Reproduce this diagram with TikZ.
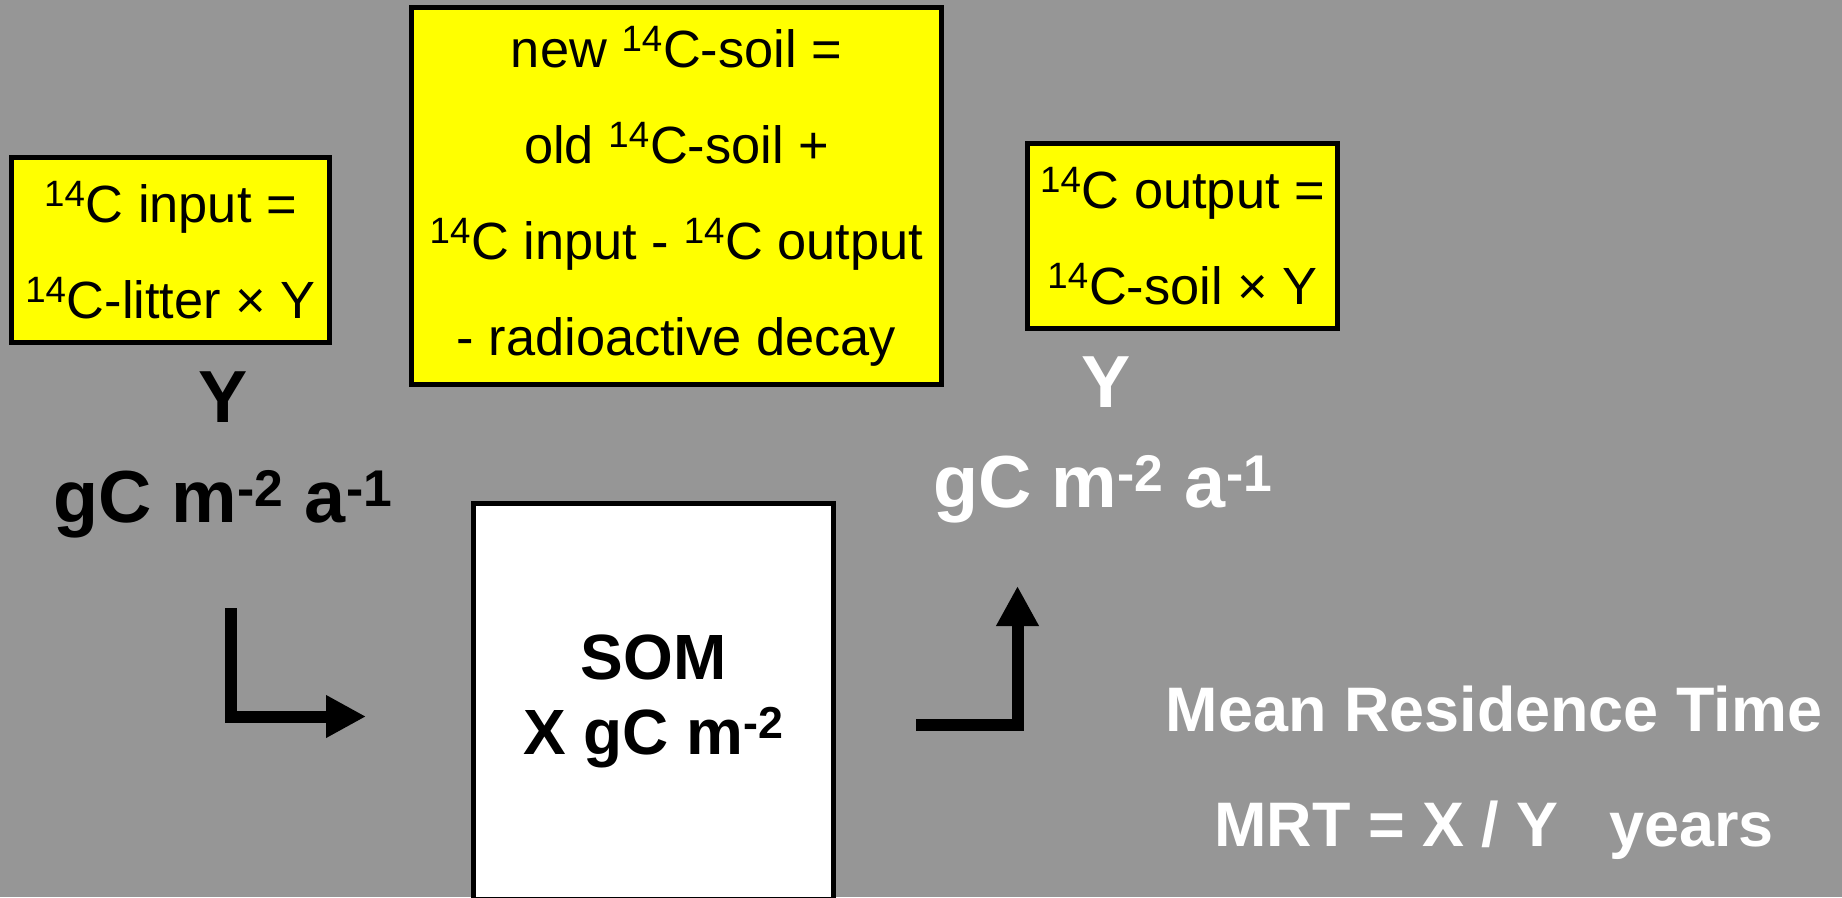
\documentclass[tikz,border=0pt]{standalone}
\usepackage{fontspec}
\setmainfont{Liberation Sans}
\usepackage{tikz}
\usetikzlibrary{arrows.meta}
\definecolor{bggray}{RGB}{150,150,150}
\definecolor{boxyellow}{RGB}{255,255,0}
\newcommand{\cxiv}{\textsuperscript{14}C}
\tikzset{
  eqbox/.style={rectangle, draw=black, fill=boxyellow, align=center,
    inner sep=0pt, line width=2.85pt, font=\fontsize{29.8}{54.6}\selectfont},
  ratelabel/.style={anchor=base, font=\fontsize{42}{50}\selectfont\bfseries},
  pool/.style={rectangle, draw=black, fill=white, align=center,
    inner sep=0pt, line width=2.85pt, font=\fontsize{36.4}{42.7}\selectfont\bfseries},
  mrtlabel/.style={anchor=base, text=white, font=\fontsize{35.8}{43}\selectfont\bfseries},
  flow/.style={-{Triangle[length=0.8cm, width=0.8cm]}, line width=0.24cm, line join=miter}
}

\begin{document}
\begin{tikzpicture}[x=0.02cm, y=-0.02cm]
  \useasboundingbox (0,0) rectangle (1842,897);
  \clip (0,0) rectangle (1842,897);
  \fill[bggray] (0,0) rectangle (1842,897);

  \node[eqbox, minimum width=6.36cm, minimum height=3.69cm] (input) at (170.5,250)
    {\cxiv{} input =\\\cxiv-litter × Y};
  \node[eqbox, minimum width=10.6cm, minimum height=7.54cm] (balance) at (676.5,196)
    {new \cxiv-soil =\\old \cxiv-soil +\\\cxiv{} input - \cxiv{} output\\- radioactive decay};
  \node[eqbox, minimum width=6.2cm, minimum height=3.7cm] (output) at (1182.5,236)
    {\cxiv{} output =\\\cxiv-soil × Y};
  \node[pool, minimum width=7.2cm, minimum height=7.93cm] (som) at (653.5,701.75)
    {SOM\\X gC m\textsuperscript{-2}};

  % fluxes in and out
  \node[ratelabel] (inrate) at (223.5,422) {Y};
  \node[ratelabel] (inunit) at (223,522) {gC m\textsuperscript{-2} a\textsuperscript{-1}};
  \node[ratelabel, text=white] (outrate) at (1106,407) {Y};
  \node[ratelabel, text=white] (outunit) at (1103,507) {gC m\textsuperscript{-2} a\textsuperscript{-1}};

  \node[mrtlabel] (mrttitle) at (1494,731) {Mean Residence Time};
  \node[mrtlabel] (mrt) at (1494,846) {MRT = X / Y\hspace{0.8em}years};

  \coordinate (in-top) at (230.5,608);
  \coordinate (in-tip) at (366,716.5);
  \coordinate (out-start) at (916,724.5);
  \coordinate (out-tip) at (1017.5,586);
  \draw[flow] (in-top) |- (in-tip);
  \draw[flow] (out-start) -| (out-tip);
\end{tikzpicture}
\end{document}
